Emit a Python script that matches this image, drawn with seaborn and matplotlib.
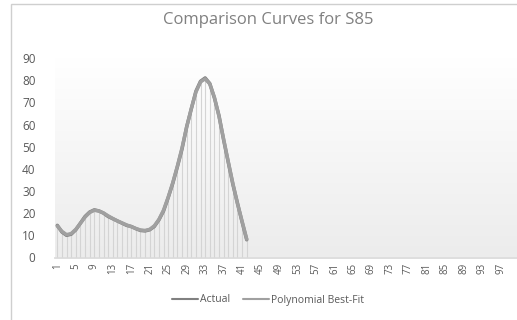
import numpy as np
import pandas as pd
import matplotlib.pyplot as plt
import seaborn as sns
from matplotlib.patches import Rectangle

# valores (categorias 1..100, dados so ate 42)
categorias = list(range(1, 101))
pontos = list(range(1, 43))
actual = [14.5, 11.5, 10.0, 10.5, 12.5, 15.5, 18.5, 20.5, 21.5, 21.0,
          20.0, 18.5, 17.5, 16.5, 15.5, 14.5, 14.0, 13.0, 12.2, 12.0,
          12.5, 14.0, 17.0, 21.0, 27.0, 33.5, 41.0, 49.0, 59.0, 67.0,
          75.0, 79.5, 81.0, 78.5, 72.0, 64.0, 53.0, 43.0, 33.0, 24.5,
          16.0, 8.0]
best_fit = [14.2, 11.8, 10.3, 10.8, 12.7, 15.4, 18.2, 20.3, 21.3, 21.0,
            20.1, 18.8, 17.6, 16.5, 15.6, 14.7, 13.9, 13.1, 12.4, 12.2,
            12.7, 14.3, 17.2, 21.4, 27.2, 33.8, 41.3, 49.5, 58.8, 67.2,
            74.6, 79.2, 80.6, 78.3, 72.3, 63.6, 53.4, 43.2, 33.4, 24.2,
            16.3, 8.3]
tick_labels = [str(c) for c in categorias[::4]]
legenda = ['Actual', 'Polynomial Best-Fit']


def load_data():
    df_a = pd.DataFrame({'x': pontos, 'y': actual, 'serie': legenda[0]})
    df_b = pd.DataFrame({'x': pontos, 'y': best_fit, 'serie': legenda[1]})
    return pd.concat([df_a, df_b])


def main():
    df = load_data()
    sns.set_theme(style="white")
    plt.rcParams['font.family'] = ['Open Sans', 'DejaVu Sans']

    fig = plt.figure(figsize=(5.17, 3.2), dpi=100)
    fig.patch.set_facecolor('white')
    # moldura do grafico (estilo Excel)
    fig.patches.append(Rectangle((11 / 517, -0.1), 1.2, (320 - 4) / 320 + 0.1,
                                 transform=fig.transFigure, fill=False,
                                 edgecolor='#cfcfcf', lw=1))

    ax = fig.add_axes([55 / 517, 1 - 257.5 / 320, (517 - 55) / 517, (257.5 - 58) / 320])

    # fundo em gradiente
    grad = np.linspace(0, 1, 256).reshape(-1, 1)
    ax.imshow(grad, extent=[0.5, 100.5, 0, 90], aspect='auto',
              cmap=sns.blend_palette(['#ffffff', '#ececec'], as_cmap=True),
              origin='upper', zorder=0)

    # linhas verticais (drop lines)
    ax.vlines(pontos, 0, actual, color='#d4d4d4', lw=0.8, zorder=1)

    sns.lineplot(data=df, x='x', y='y', hue='serie', ax=ax,
                 palette=['#808080', '#a0a0a0'], lw=2.5, legend=False, zorder=3)

    ax.set_xlim(0.5, 100.5)
    ax.set_ylim(0, 90)
    ax.set_xticks(categorias[::4])
    ax.set_xticklabels(tick_labels, rotation=90, fontsize=7, color='#595959')
    ax.set_yticks(range(0, 91, 10))
    ax.tick_params(axis='y', labelsize=8.5, labelcolor='#595959', length=0, pad=14)
    ax.tick_params(axis='x', length=0, pad=4)
    ax.set_xlabel('')
    ax.set_ylabel('')
    for s in ['top', 'right', 'left']:
        ax.spines[s].set_visible(False)
    ax.spines['bottom'].set_color('#d9d9d9')

    fig.text(268 / 517, 1 - 20 / 320, 'Comparison Curves for S85', ha='center', va='center',
             fontsize=12, color='#808080')

    handles = [plt.Line2D([], [], color='#808080', lw=1.5),
               plt.Line2D([], [], color='#a0a0a0', lw=1.5)]
    fig.legend(handles, legenda, loc='center', bbox_to_anchor=(268 / 517, 1 - 300 / 320),
               ncol=2, frameon=False, fontsize=7.5, handlelength=2.5, columnspacing=1.2,
               handletextpad=0.2, labelcolor='#595959')

    plt.savefig('out.png', dpi=100)


if __name__ == "__main__":
    main()
